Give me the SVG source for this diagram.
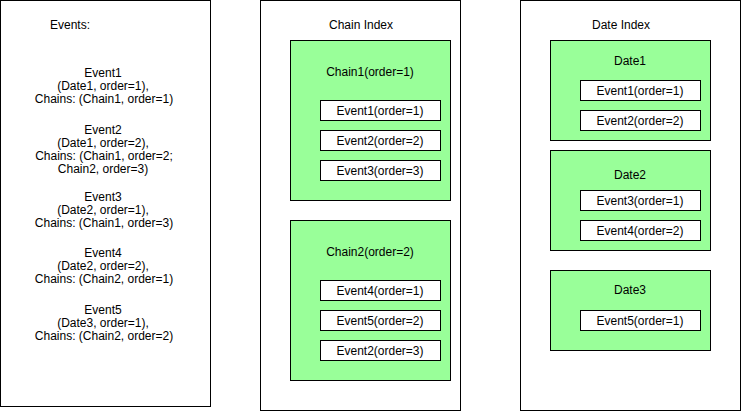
<svg xmlns="http://www.w3.org/2000/svg" width="741" height="411" viewBox="0 0 741 411">
<style>
text{font-family:"Liberation Sans",Arial,sans-serif;font-size:12px;fill:#000;text-anchor:middle}
.panel{fill:#fff;stroke:#000;stroke-width:1}
.grp{fill:#99ff99;stroke:#000;stroke-width:1}
.ev{fill:#fff;stroke:#000;stroke-width:1}
</style>
<rect width="741" height="411" fill="#fff"/>
<g id="events-panel">
<rect class="panel" x="0.5" y="0.5" width="210" height="406"/>
<text x="70" y="29">Events:</text>
<text x="103" y="77">Event1</text>
<text x="103" y="90">(Date1, order=1),</text>
<text x="104" y="103">Chains: (Chain1, order=1)</text>
<text x="103" y="134">Event2</text>
<text x="103" y="147">(Date1, order=2),</text>
<text x="104" y="160">Chains: (Chain1, order=2;</text>
<text x="103" y="173">Chain2, order=3)</text>
<text x="103" y="201">Event3</text>
<text x="103" y="214">(Date2, order=1),</text>
<text x="104" y="227">Chains: (Chain1, order=3)</text>
<text x="103" y="257">Event4</text>
<text x="103" y="270">(Date2, order=2),</text>
<text x="104" y="283">Chains: (Chain2, order=1)</text>
<text x="103" y="314">Event5</text>
<text x="103" y="327">(Date3, order=1),</text>
<text x="104" y="340">Chains: (Chain2, order=2)</text>
</g>
<g id="chain-index">
<rect class="panel" x="260.5" y="0.5" width="200" height="410"/>
<text x="361" y="29">Chain Index</text>
</g>
<g id="chain1">
<rect class="grp" x="290.5" y="40.5" width="160" height="160"/>
<text x="370" y="76">Chain1(order=1)</text>
</g>
<g id="chain1-event1"><rect class="ev" x="320.5" y="100.5" width="120" height="20"/><text x="380" y="115">Event1(order=1)</text></g>
<g id="chain1-event2"><rect class="ev" x="320.5" y="130.5" width="120" height="20"/><text x="380" y="145">Event2(order=2)</text></g>
<g id="chain1-event3"><rect class="ev" x="320.5" y="160.5" width="120" height="20"/><text x="380" y="175">Event3(order=3)</text></g>
<g id="chain2">
<rect class="grp" x="290.5" y="220.5" width="160" height="160"/>
<text x="370" y="256">Chain2(order=2)</text>
</g>
<g id="chain2-event4"><rect class="ev" x="320.5" y="280.5" width="120" height="20"/><text x="380" y="295">Event4(order=1)</text></g>
<g id="chain2-event5"><rect class="ev" x="320.5" y="310.5" width="120" height="20"/><text x="380" y="325">Event5(order=2)</text></g>
<g id="chain2-event2"><rect class="ev" x="320.5" y="340.5" width="120" height="20"/><text x="380" y="355">Event2(order=3)</text></g>
<g id="date-index">
<rect class="panel" x="520.5" y="0.5" width="220" height="410"/>
<text x="621" y="29">Date Index</text>
</g>
<g id="date1">
<rect class="grp" x="550.5" y="40.5" width="160" height="100"/>
<text x="630" y="65">Date1</text>
</g>
<g id="date1-event1"><rect class="ev" x="580.5" y="80.5" width="120" height="20"/><text x="640" y="95">Event1(order=1)</text></g>
<g id="date1-event2"><rect class="ev" x="580.5" y="110.5" width="120" height="20"/><text x="640" y="125">Event2(order=2)</text></g>
<g id="date2">
<rect class="grp" x="550.5" y="150.5" width="160" height="100"/>
<text x="630" y="179">Date2</text>
</g>
<g id="date2-event3"><rect class="ev" x="580.5" y="190.5" width="120" height="20"/><text x="640" y="205">Event3(order=1)</text></g>
<g id="date2-event4"><rect class="ev" x="580.5" y="220.5" width="120" height="20"/><text x="640" y="235">Event4(order=2)</text></g>
<g id="date3">
<rect class="grp" x="550.5" y="270.5" width="160" height="80"/>
<text x="630" y="294">Date3</text>
</g>
<g id="date3-event5"><rect class="ev" x="580.5" y="310.5" width="120" height="20"/><text x="640" y="325">Event5(order=1)</text></g>
<g id="connectors"></g>
</svg>
